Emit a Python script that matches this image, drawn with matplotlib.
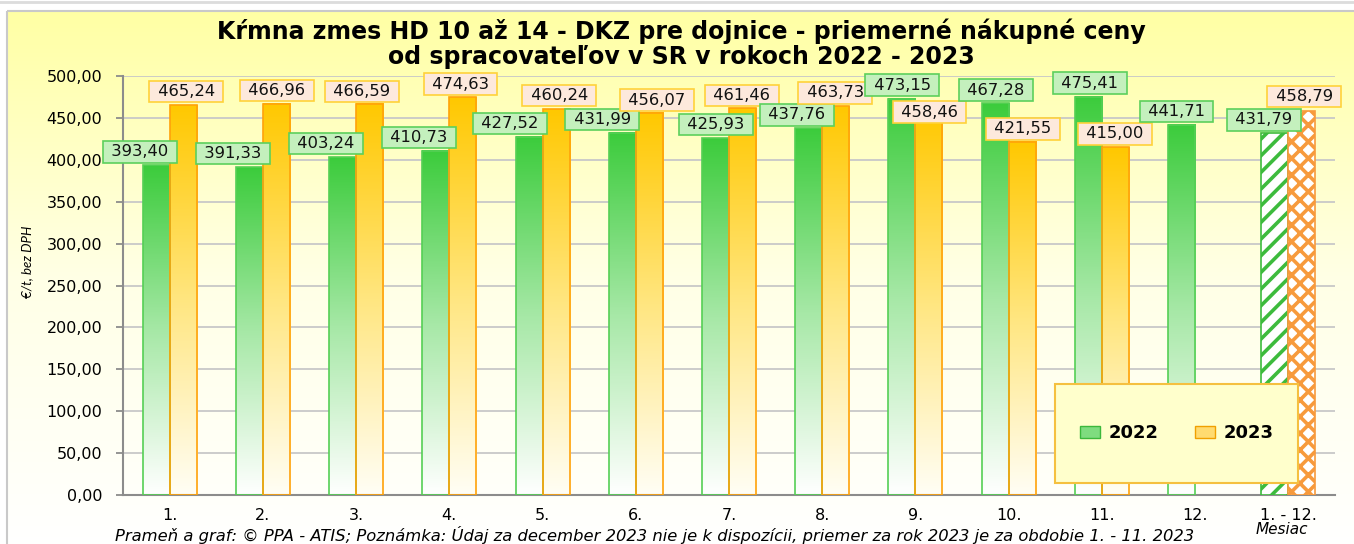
import numpy as np
import matplotlib.pyplot as plt
from matplotlib.colors import LinearSegmentedColormap
from matplotlib.patches import Rectangle, Patch

# mesiace a priemerne nakupne ceny (EUR/t bez DPH)
mesiace = ['1.', '2.', '3.', '4.', '5.', '6.', '7.', '8.', '9.', '10.', '11.', '12.', '1. - 12.']
ceny_2022 = [393.40, 391.33, 403.24, 410.73, 427.52, 431.99, 425.93, 437.76,
             473.15, 467.28, 475.41, 441.71, 431.79]
ceny_2023 = [465.24, 466.96, 466.59, 474.63, 460.24, 456.07, 461.46, 463.73,
             458.46, 421.55, 415.00, np.nan, 458.79]

# posuny popiskov (v sirkach kategorie / v jednotkach osi y)
dx_2022 = [-0.32, -0.32, -0.32, -0.33, -0.35, -0.36, -0.14, -0.27, -0.14, -0.14, -0.13, -0.20, -0.26]
dx_2023 = [0.18, 0.15, 0.06, 0.12, 0.18, 0.23, 0.14, 0.14, 0.15, 0.15, 0.14, 0.0, 0.17]
dy_2022 = [16] * 13
dy_2023 = [16, 16, 15, 15.5, 16.5, 15, 15.5, 16, -1.5, 15.5, 16, 0, 17]

W, H = 1354, 544
fig = plt.figure(figsize=(W / 100, H / 100), dpi=100)
plt.rcParams['hatch.linewidth'] = 2.6

# pozadie - zlty prechod do bielej
bg = fig.add_axes([0, 0, 1, 1], zorder=-10)
bg.set_xlim(0, W)
bg.set_ylim(H, 0)
bg.axis('off')
bg_cmap = LinearSegmentedColormap.from_list('bg', ['#ffffa4', '#ffffe6', '#ffffff'])
grad = np.linspace(0, 1, 256)[:, None]
bg.imshow(grad, extent=[7, W + 5, H + 5, 11], cmap=bg_cmap, aspect='auto')
bg.add_patch(Rectangle((7, 11), W, H, fill=False, ec='#c9c9c9', lw=1.5))
bg.axhline(2, color='#dcdcdc', lw=2)

ax = fig.add_axes([123 / W, 1 - 495 / H, 1212 / W, 419 / H])
ax.set_facecolor('none')

x = np.arange(len(mesiace))
w = 0.29
green_cm = LinearSegmentedColormap.from_list('g', ['#ffffff', '#a6e8a6', '#3ccc3c'])
yellow_cm = LinearSegmentedColormap.from_list('y', ['#fffef5', '#ffe680', '#ffc800'])

bars22 = ax.bar(x - w / 2, ceny_2022, w, facecolor='none', edgecolor='#55cf55', lw=1.2, zorder=3)
bars23 = ax.bar(x + w / 2, ceny_2023, w, facecolor='none', edgecolor='#ffa20a', lw=1.2, zorder=3)

vgrad = np.linspace(0, 1, 256)[:, None]
for bars, cm in ((bars22, green_cm), (bars23, yellow_cm)):
    for b in bars[:-1]:
        h = b.get_height()
        if np.isnan(h):
            continue
        ax.imshow(vgrad, extent=[b.get_x(), b.get_x() + b.get_width(), 0, h],
                  origin='lower', cmap=cm, aspect='auto', zorder=2)

# priemer za rok - srafovane stlpce
bars22[-1].set_facecolor('white')
bars22[-1].set_hatch('//')
bars22[-1].set_edgecolor('#3dbb3d')
bars23[-1].set_facecolor('white')
bars23[-1].set_hatch('xx')
bars23[-1].set_edgecolor('#f79a3c')

ax.set_xlim(-0.5, len(mesiace) - 0.5)
ax.set_ylim(0, 500)
ax.set_aspect('auto')

# popisky hodnot
for i in range(len(mesiace)):
    v = ceny_2022[i]
    ax.text(x[i] + dx_2022[i], v + dy_2022[i], ' ' + f'{v:.2f}'.replace('.', ',') + ' ',
            ha='center', va='center', fontsize=11.8, color='#111111', zorder=6,
            bbox=dict(boxstyle='square,pad=0.2', fc='#c4f0bd', ec='#5cd05c', lw=1.2))
    v = ceny_2023[i]
    if np.isnan(v):
        continue
    ax.text(x[i] + dx_2023[i], v + dy_2023[i], ' ' + f'{v:.2f}'.replace('.', ',') + ' ',
            ha='center', va='center', fontsize=11.8, color='#111111', zorder=6,
            bbox=dict(boxstyle='square,pad=0.2', fc='#fde9dc', ec='#ffd23a', lw=1.2))

ax.set_yticks(np.arange(0, 501, 50))
ax.set_yticklabels([f'{t:.2f}'.replace('.', ',') for t in np.arange(0, 501, 50)])
ax.set_xticks(x)
ax.set_xticklabels(mesiace)
ax.tick_params(axis='y', length=5, color='#8c8c8c', width=1.3, labelsize=11.5, pad=10)
ax.tick_params(axis='x', length=0, labelsize=11.5, pad=9)
ax.grid(axis='y', color='#c8c8c8', lw=1.3)
ax.set_axisbelow(True)
for s in ('top', 'right'):
    ax.spines[s].set_visible(False)
for s in ('left', 'bottom'):
    ax.spines[s].set_color('#8c8c8c')
    ax.spines[s].set_linewidth(1.5)

# legenda
ax.add_patch(Rectangle((0.769, 0.0286), 0.2005, 0.2364, transform=ax.transAxes,
                       fc='#ffffcc', ec='#f5c040', lw=1.5, zorder=7))
handles = [Patch(fc='#7fdc7f', ec='#3cb83c'), Patch(fc='#ffdb70', ec='#f0a000')]
leg = ax.legend(handles, ['2022', '2023'], ncol=2, loc='center',
                bbox_to_anchor=(0.8693, 0.1468), frameon=False,
                prop={'weight': 'bold', 'size': 13}, handlelength=1.1, handleheight=0.7,
                columnspacing=2.0, handletextpad=0.5)
leg.set_zorder(8)

fig.text(681 / W, 1 - 31 / H, 'Kŕmna zmes HD 10 až 14 - DKZ pre dojnice - priemerné nákupné ceny',
         ha='center', va='center', fontsize=17, fontweight='bold')
fig.text(681 / W, 1 - 57 / H, 'od spracovateľov v SR v rokoch 2022 - 2023',
         ha='center', va='center', fontsize=17, fontweight='bold')
fig.text(27 / W, 1 - 262 / H, '€/t, bez DPH', rotation=90, ha='center', va='center',
         fontsize=9.5, style='italic', family='Lato')
fig.text(1282 / W, 1 - 530 / H, 'Mesiac', ha='center', va='center', fontsize=11, style='italic')
fig.text(115 / W, 1 - 535 / H,
         'Prameň a graf: © PPA - ATIS; Poznámka: Údaj za december 2023 nie je k dispozícii, '
         'priemer za rok 2023 je za obdobie 1. - 11. 2023',
         ha='left', va='center', fontsize=11.8, style='italic')

fig.savefig('out.png', dpi=100)
